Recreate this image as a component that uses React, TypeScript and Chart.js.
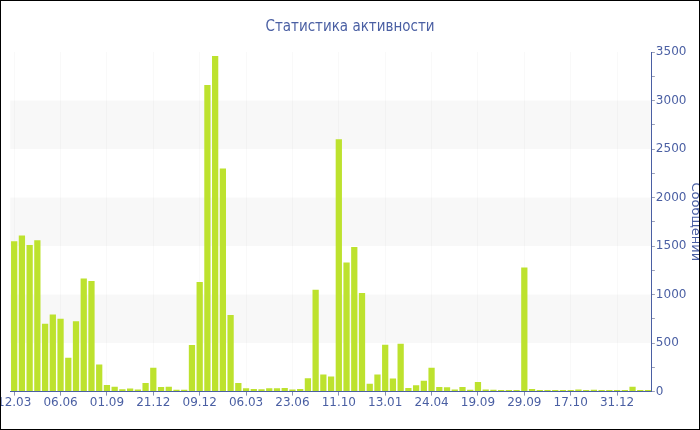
import React, { useEffect, useRef } from 'react';
import { Chart, registerables } from 'chart.js';

Chart.register(...registerables);

const title = 'Статистика активности';
const yTitle = 'Сообщений';
const tickLabels = ['12.03', '06.06', '01.09', '21.12', '09.12', '06.03', '23.06', '11.10', '13.01', '24.04', '19.09', '29.09', '17.10', '31.12'];
const labelEvery = 6;
const messages = [
  1550, 1610, 1510, 1560, 700, 795, 750, 350, 725, 1165, 1140, 280,
  68, 51, 24, 31, 22, 89, 247, 48, 51, 20, 20, 479,
  1130, 3160, 3460, 2300, 790, 89, 34, 27, 24, 34, 34, 38,
  22, 27, 137, 1050, 175, 155, 2600, 1330, 1490, 1015, 82, 175,
  483, 134, 493, 38, 65, 113, 247, 48, 45, 22, 48, 18,
  99, 22, 20, 16, 16, 16, 1278, 27, 16, 16, 16, 16,
  16, 22, 16, 20, 16, 16, 16, 16, 51, 16, 16,
];
const categories = messages.map((_, i) => (i % labelEvery === 0 ? tickLabels[i / labelEvery] : ''));
const bandRanges = [[500, 1000], [1500, 2000], [2500, 3000]];

const BLUE = '#4a5fa3';
const FONT = 'DejaVu Sans';

const bandsPlugin = {
  id: 'bands',
  beforeDraw(chart: any) {
    const { ctx, chartArea, scales } = chart;
    const y = scales.y;
    ctx.save();
    ctx.fillStyle = '#f8f8f8';
    for (const [a, b] of bandRanges) {
      const top = y.getPixelForValue(b);
      const bot = y.getPixelForValue(a);
      ctx.fillRect(chartArea.left, top, chartArea.right - chartArea.left, bot - top);
    }
    ctx.restore();
  },
};

export default function App() {
  const ref = useRef<HTMLCanvasElement | null>(null);
  useEffect(() => {
    if (!ref.current) return;
    const chart = new Chart(ref.current, {
      type: 'bar',
      data: {
        labels: categories,
        datasets: [
          {
            label: yTitle,
            data: messages,
            backgroundColor: '#bde22e',
            borderWidth: 0,
            barPercentage: 0.9,
            categoryPercentage: 0.9,
          },
        ],
      },
      options: {
        animation: false,
        responsive: true,
        maintainAspectRatio: false,
        layout: { padding: { left: 0, right: 0, top: 0, bottom: 19 } },
        plugins: {
          legend: { display: false },
          tooltip: { enabled: false },
          title: {
            display: true,
            text: title,
            color: BLUE,
            font: { family: "'DejaVu Sans Condensed', 'DejaVu Sans'", size: 15, weight: 'normal' },
            padding: { top: 17, bottom: 16 },
          },
        },
        scales: {
          x: {
            offset: true,
            grid: {
              color: 'rgba(0,0,0,0.025)',
              tickColor: '#8890b0',
              tickLength: 4,
              offset: false,
            },
            border: { color: BLUE, width: 1 },
            ticks: {
              autoSkip: false,
              maxRotation: 0,
              minRotation: 0,
              padding: 0,
              color: BLUE,
              font: { family: FONT, size: 12 },
              callback: (_v: any, i: number) => (categories[i] ? categories[i] : null),
            },
          },
          y: {
            position: 'right',
            min: 0,
            max: 3500,
            grid: { drawOnChartArea: false, tickLength: 3, tickColor: '#9aa0b8' },
            border: { color: BLUE, width: 1 },
            ticks: {
              stepSize: 250,
              padding: 1,
              color: BLUE,
              font: { family: FONT, size: 12 },
              callback: (v: any) => (Number(v) % 500 === 0 ? String(v) : ''),
            },
            title: {
              display: true,
              text: yTitle,
              color: BLUE,
              font: { family: FONT, size: 13 },
              padding: 0,
            },
          },
        },
      } as any,
      plugins: [bandsPlugin],
    });
    return () => chart.destroy();
  }, []);

  return (
    <div
      style={{
        position: 'fixed',
        left: 0,
        top: 0,
        width: 700,
        height: 430,
        border: '1px solid #000',
        boxSizing: 'border-box',
        overflow: 'hidden',
        background: '#fff',
      }}
    >
      <div style={{ position: 'absolute', left: -4, top: 0, width: 706, height: 428 }}>
        <canvas ref={ref} />
      </div>
    </div>
  );
}
